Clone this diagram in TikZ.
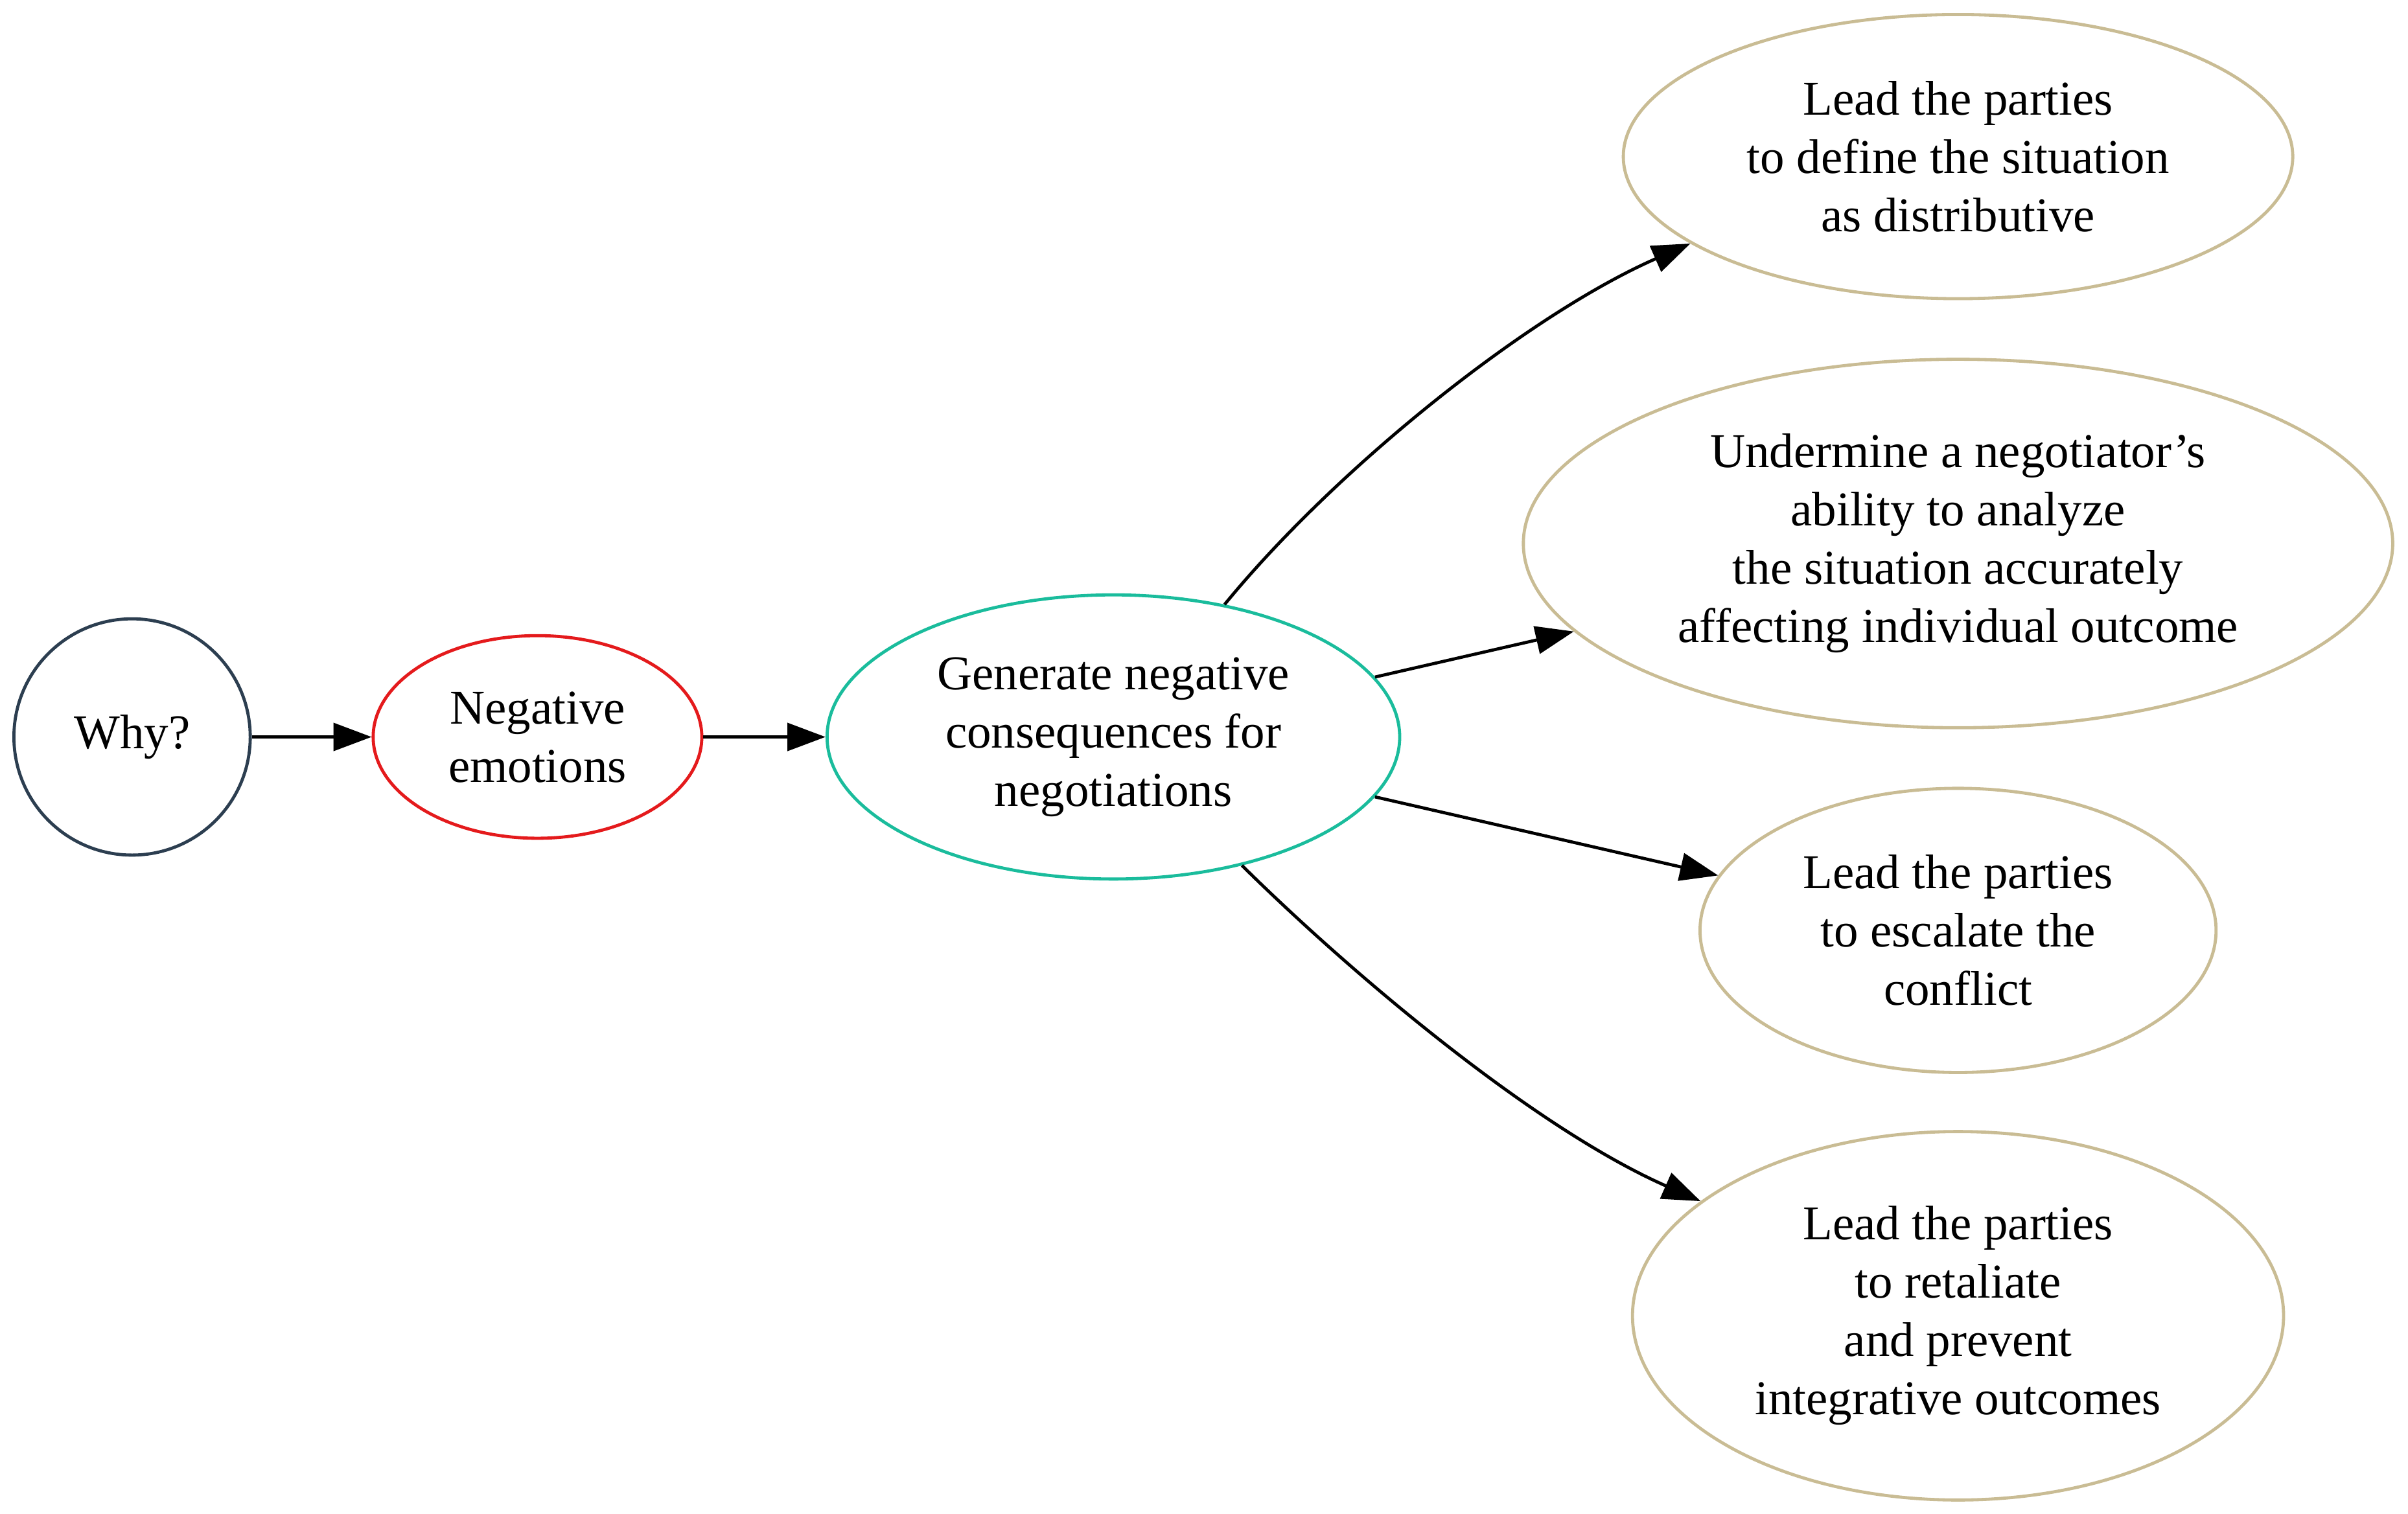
\documentclass[tikz,border=0pt]{standalone}
\usepackage{fontspec}
\setmainfont{Liberation Serif}
\usetikzlibrary{shapes.geometric,arrows.meta}
\definecolor{cnavy}{HTML}{2C3E50}
\definecolor{cred}{HTML}{E41A1C}
\definecolor{cteal}{HTML}{1ABC9C}
\definecolor{ctan}{HTML}{C9BC94}
\tikzset{
  gnode/.style={ellipse, draw, line width=0.9pt, inner sep=0pt, align=center,
    font=\fontsize{14pt}{16.8pt}\selectfont},
  gedge/.style={line width=0.9pt, -{Triangle[length=11pt,width=8pt]}},
}
\begin{document}
\begin{tikzpicture}[x=0.4425pt,y=-0.4425pt]
\useasboundingbox (0,0) rectangle (1568,986);
\node[gnode, circle, draw=cnavy, minimum size=68.1pt] (why) at (86,480) {Why?};
\node[gnode, draw=cred, minimum width=94.7pt, minimum height=58.4pt] (neg) at (350,480) {Negative\\emotions};
\node[gnode, draw=cteal, minimum width=165pt, minimum height=81.9pt] (gen) at (725,480) {Generate negative\\consequences for\\negotiations};
\node[gnode, draw=ctan, minimum width=192.9pt, minimum height=81.9pt] (dist) at (1275,102) {Lead the parties\\to define the situation\\as distributive};
\node[gnode, draw=ctan, minimum width=250.5pt, minimum height=106.2pt] (und) at (1275,354) {Undermine a negotiator’s\\ability to analyze\\the situation accurately\\affecting individual outcome};
\node[gnode, draw=ctan, minimum width=148.7pt, minimum height=81.9pt] (esc) at (1275,606) {Lead the parties\\to escalate the\\conflict};
\node[gnode, draw=ctan, minimum width=187.6pt, minimum height=106.2pt] (ret) at (1275,857) {Lead the parties\\to retaliate\\and prevent\\integrative outcomes};
\draw[gedge] (why) -- (neg);
\draw[gedge] (neg) -- (gen);
\draw[gedge] (gen.50) .. controls (870,305) and (995,205) .. (dist.198);
\draw[gedge] (gen) -- (und);
\draw[gedge] (gen) -- (esc);
\draw[gedge] (gen.315) .. controls (883,637) and (1000,735) .. (ret.156);
\end{tikzpicture}
\end{document}
